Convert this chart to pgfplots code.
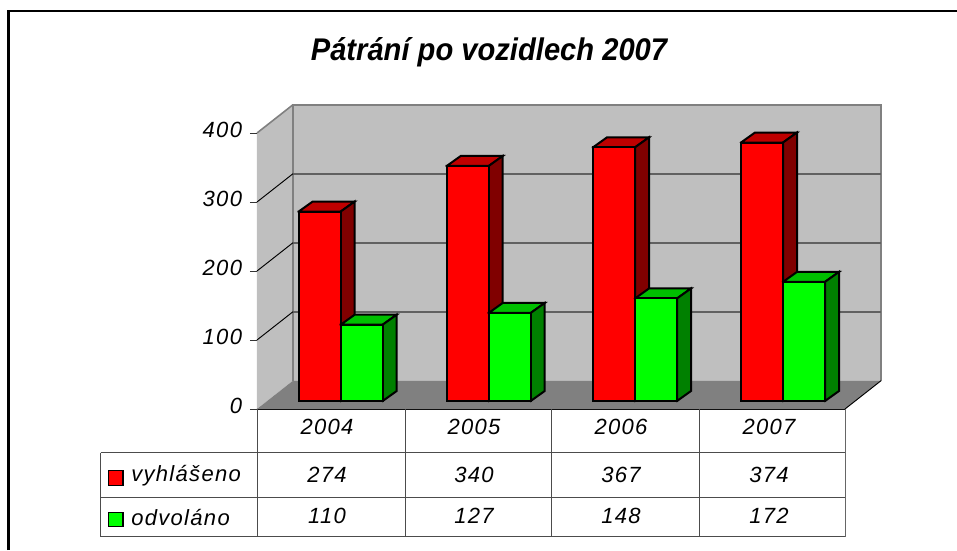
\documentclass[border=0pt]{standalone}
\usepackage{fontspec}
\setmainfont{Liberation Sans}
\usepackage{pgfplots}
\pgfplotsset{compat=1.18}
\newcommand\lab{\itshape\fontsize{16.5}{19}\selectfont\addfontfeature{LetterSpace=6}}
% y value of a picture row
\newcommand\py[1]{{(409-#1)/0.69}}
% x left edge, value, colours of front, side, top
\newcommand\barthree[5]{%
  \pgfmathsetmacro\xa{#1}\pgfmathsetmacro\xb{#1+42}%
  \pgfmathsetmacro\xc{#1+14}\pgfmathsetmacro\xd{#1+56}%
  \pgfmathsetmacro\tp{#2+12.2}\pgfmathsetmacro\tq{#2+26.7}%
  \addplot[draw=black,line width=1.5pt,line cap=rect,fill=#5] coordinates {(\xa,\tp)(\xc,\tq)(\xd,\tq)(\xb,\tp)(\xa,\tp)};
  \addplot[draw=black,line width=1.5pt,line cap=rect,fill=#4] coordinates {(\xb,11.6)(\xd,26.1)(\xd,\tq)(\xb,\tp)(\xb,11.6)};
  \addplot[draw=black,line width=1.5pt,line cap=rect,fill=#3] coordinates {(\xa,11.6)(\xb,11.6)(\xb,\tp)(\xa,\tp)(\xa,11.6)};
}
\begin{document}
\begin{tikzpicture}[x=1pt,y=1pt]
\path[use as bounding box] (-192.75pt,-105.75pt) rectangle (525pt,306.75pt);
\begin{axis}[
  scale only axis,width=441pt,height=207pt,
  xmin=257,xmax=845,ymin=0,ymax=400,clip=false,
  axis lines=left,axis line style={-},
  x axis line style={black,line width=1.5pt},
  y axis line style={black!80,line width=0.7pt},
  xtick={327,474,621,769},xticklabels={2004,2005,2006,2007},
  ytick={0,100,200,300,400},yticklabels={0,100,200,300,400},
  major tick length=0pt,
  xticklabel style={font=\lab,inner sep=0pt,yshift=-7.5pt},
  yticklabel style={font=\lab,inner sep=0pt,xshift=-11pt,yshift=2pt},
]
% walls
\addplot[draw=none,fill=black!25] coordinates {(293,41)(881,41)(881,441)(293,441)(293,41)};
\addplot[draw=none,fill=black!25] coordinates {(257,0)(293,41)(293,441)(257,400)(257,0)};
\addplot[draw=none,fill=black!50] coordinates {(257,0)(845,0)(881,41)(293,41)(257,0)};
% back wall edges and grid
\addplot[black!50,line width=1.5pt] coordinates {(293,41)(293,441)(881,441)(881,41)};
\addplot[black!50,line width=1.2pt] coordinates {(257,400)(293,441)};
\addplot[black!62,line width=1.5pt] coordinates {(293,141)(881,141)};
\addplot[black!62,line width=1.5pt] coordinates {(293,241)(881,241)};
\addplot[black!62,line width=1.5pt] coordinates {(293,341)(881,341)};
\addplot[black,line width=0.7pt] coordinates {(257,100)(293,141)};
\addplot[black,line width=0.7pt] coordinates {(257,200)(293,241)};
\addplot[black,line width=0.7pt] coordinates {(257,300)(293,341)};
\addplot[black,line width=0.7pt] coordinates {(845,0)(881,41)};
% y ticks
\addplot[black!80,line width=0.7pt] coordinates {(250,0)(257,0)};
\addplot[black!80,line width=0.7pt] coordinates {(250,100)(257,100)};
\addplot[black!80,line width=0.7pt] coordinates {(250,200)(257,200)};
\addplot[black!80,line width=0.7pt] coordinates {(250,300)(257,300)};
\addplot[black!80,line width=0.7pt] coordinates {(250,400)(257,400)};
% bars
\barthree{298.7}{274}{red}{red!50!black}{red!75!black}
\barthree{340.7}{110}{green}{green!50!black}{green!75!black}
\barthree{446.7}{340}{red}{red!50!black}{red!75!black}
\barthree{488.7}{127}{green}{green!50!black}{green!75!black}
\barthree{593}{367}{red}{red!50!black}{red!75!black}
\barthree{635}{148}{green}{green!50!black}{green!75!black}
\barthree{741}{374}{red}{red!50!black}{red!75!black}
\barthree{783}{172}{green}{green!50!black}{green!75!black}
% data table
\draw[black!70,line width=0.7pt] (axis cs:100.7,\py{452.7}) -- (axis cs:845,\py{452.7});
\draw[black!70,line width=0.7pt] (axis cs:100.7,\py{497.3}) -- (axis cs:845,\py{497.3});
\draw[black!70,line width=0.7pt] (axis cs:100.7,\py{536.7}) -- (axis cs:845,\py{536.7});
\draw[black!70,line width=0.7pt] (axis cs:100.7,\py{452.7}) -- (axis cs:100.7,\py{536.7});
\draw[black!70,line width=0.7pt] (axis cs:257,\py{409}) -- (axis cs:257,\py{536.7});
\draw[black!70,line width=0.7pt] (axis cs:405,\py{409}) -- (axis cs:405,\py{536.7});
\draw[black!70,line width=0.7pt] (axis cs:551,\py{409}) -- (axis cs:551,\py{536.7});
\draw[black!70,line width=0.7pt] (axis cs:699,\py{409}) -- (axis cs:699,\py{536.7});
\draw[black!60,line width=0.7pt] (axis cs:845,\py{409}) -- (axis cs:845,\py{536.7});
% legend keys and names
\draw[black,line width=1pt,fill=red] (axis cs:108.5,\py{470.5}) rectangle (axis cs:123,\py{485.5});
\draw[black,line width=1pt,fill=green] (axis cs:108.5,\py{512.5}) rectangle (axis cs:123,\py{526.5});
\node[anchor=west,inner sep=0pt,font=\lab] at (axis cs:131,\py{476}) {vyhlášeno};
\node[anchor=west,inner sep=0pt,font=\lab] at (axis cs:131,\py{518}) {odvoláno};
\node[font=\lab,inner sep=0pt] at (axis cs:327,\py{475}) {274};
\node[font=\lab,inner sep=0pt] at (axis cs:474,\py{475}) {340};
\node[font=\lab,inner sep=0pt] at (axis cs:621,\py{475}) {367};
\node[font=\lab,inner sep=0pt] at (axis cs:769,\py{475}) {374};
\node[font=\lab,inner sep=0pt] at (axis cs:327,\py{516}) {110};
\node[font=\lab,inner sep=0pt] at (axis cs:474,\py{516}) {127};
\node[font=\lab,inner sep=0pt] at (axis cs:621,\py{516}) {148};
\node[font=\lab,inner sep=0pt] at (axis cs:769,\py{516}) {172};
% title and outer frame
\node[font=\bfseries\itshape\fontsize{23.5}{28}\selectfont\addfontfeature{FakeStretch=0.93},inner sep=0pt] at (axis cs:489,\py{52}) {Pátrání po vozidlech 2007};
\draw[black,line width=1.8pt] (axis cs:8.5,\py{550}) -- (axis cs:8.5,\py{11}) -- (axis cs:957,\py{11});
\end{axis}
\end{tikzpicture}
\end{document}
